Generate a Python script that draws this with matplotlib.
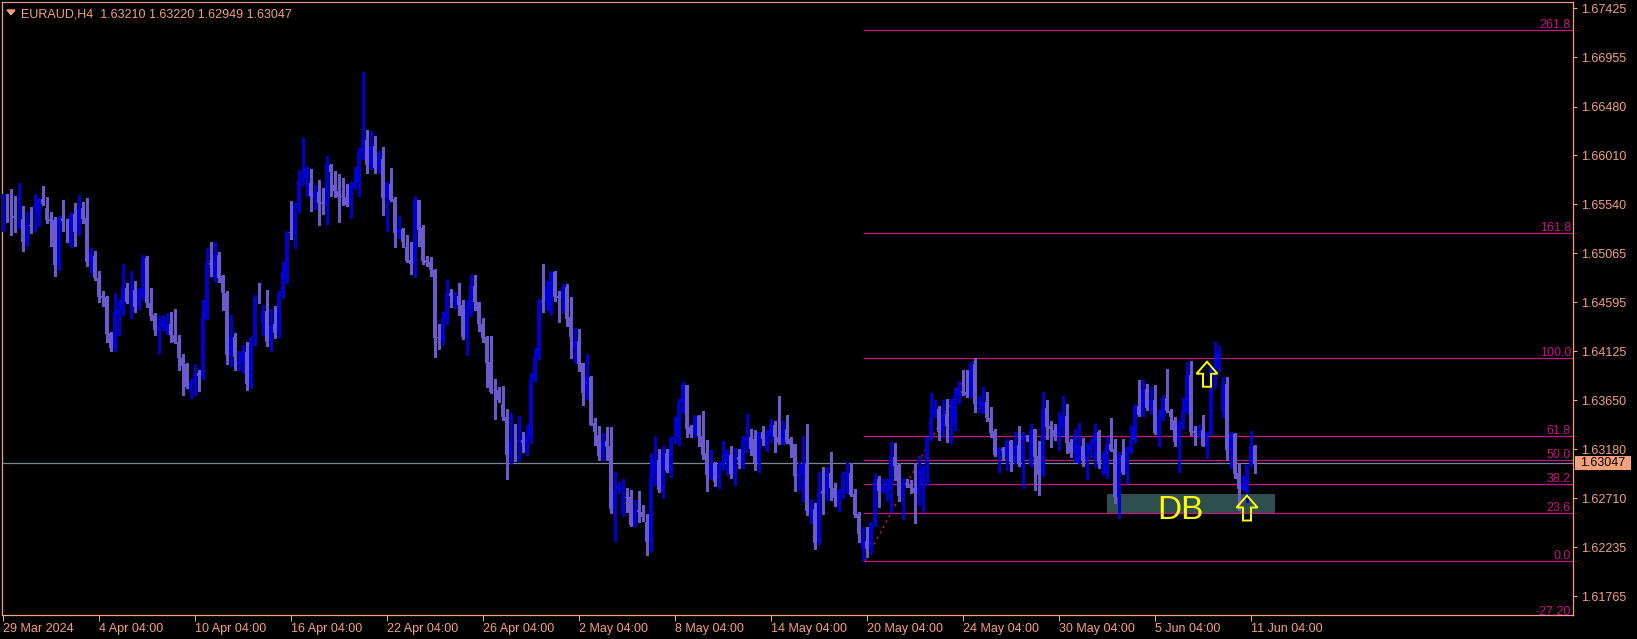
import matplotlib
matplotlib.use("Agg")
import numpy as np
import matplotlib.pyplot as plt
import matplotlib.transforms as mtransforms
from matplotlib.patches import Polygon, Rectangle

plt.rcParams['font.family'] = ['Liberation Sans', 'DejaVu Sans']

header = "EURAUD,H4  1.63210 1.63220 1.62949 1.63047"

# EURAUD H4 candles (oldest first)
opens = [
    1.6543, 1.6551, 1.6549, 1.6543, 1.6541, 1.6540, 1.6518, 1.6534, 1.6533, 1.6546,
    1.6559, 1.6550, 1.6540, 1.6539, 1.6495, 1.6541, 1.6539, 1.6514, 1.6545, 1.6527,
    1.6550, 1.6541, 1.6498, 1.6504, 1.6483, 1.6466, 1.6465, 1.6430, 1.6416, 1.6447,
    1.6452, 1.6473, 1.6459, 1.6471, 1.6456, 1.6466, 1.6502, 1.6459, 1.6447, 1.6433,
    1.6437, 1.6430, 1.6439, 1.6428, 1.6421, 1.6406, 1.6400, 1.6374, 1.6382, 1.6391,
    1.6389, 1.6444, 1.6497, 1.6483, 1.6505, 1.6485, 1.6468, 1.6410, 1.6426, 1.6398,
    1.6403, 1.6412, 1.6381, 1.6425, 1.6467, 1.6439, 1.6451, 1.6421, 1.6439, 1.6431,
    1.6468, 1.6482, 1.6527, 1.6526, 1.6553, 1.6577, 1.6578, 1.6574, 1.6560, 1.6566,
    1.6556, 1.6553, 1.6592, 1.6572, 1.6567, 1.6562, 1.6561, 1.6553, 1.6570, 1.6574,
    1.6604, 1.6616, 1.6592, 1.6610, 1.6589, 1.6597, 1.6560, 1.6573, 1.6559, 1.6526,
    1.6530, 1.6513, 1.6500, 1.6496, 1.6558, 1.6531, 1.6500, 1.6498, 1.6491, 1.6426,
    1.6424, 1.6444, 1.6468, 1.6460, 1.6466, 1.6457, 1.6426, 1.6453, 1.6475, 1.6460,
    1.6439, 1.6426, 1.6402, 1.6375, 1.6375, 1.6362, 1.6349, 1.6313, 1.6326, 1.6324,
    1.6327, 1.6315, 1.6330, 1.6385, 1.6406, 1.6461, 1.6460, 1.6449, 1.6489, 1.6466,
    1.6464, 1.6474, 1.6445, 1.6416, 1.6422, 1.6401, 1.6372, 1.6388, 1.6343, 1.6332,
    1.6312, 1.6326, 1.6321, 1.6260, 1.6280, 1.6256, 1.6272, 1.6272, 1.6245, 1.6260,
    1.6258, 1.6248, 1.6229, 1.6291, 1.6308, 1.6279, 1.6314, 1.6295, 1.6328, 1.6330,
    1.6364, 1.6380, 1.6339, 1.6333, 1.6350, 1.6331, 1.6314, 1.6293, 1.6305, 1.6289,
    1.6302, 1.6306, 1.6313, 1.6294, 1.6311, 1.6303, 1.6327, 1.6330, 1.6328, 1.6305,
    1.6335, 1.6317, 1.6331, 1.6341, 1.6330, 1.6324, 1.6338, 1.6328, 1.6323, 1.6292,
    1.6295, 1.6305, 1.6258, 1.6261, 1.6229, 1.6278, 1.6275, 1.6295, 1.6281, 1.6266,
    1.6276, 1.6294, 1.6295, 1.6275, 1.6256, 1.6222, 1.6230, 1.6223, 1.6248, 1.6289,
    1.6278, 1.6274, 1.6279, 1.6311, 1.6303, 1.6273, 1.6286, 1.6285, 1.6281, 1.6276,
    1.6285, 1.6299, 1.6328, 1.6353, 1.6357, 1.6335, 1.6352, 1.6339, 1.6341, 1.6370,
    1.6374, 1.6373, 1.6370, 1.6400, 1.6362, 1.6360, 1.6364, 1.6348, 1.6336, 1.6313,
    1.6318, 1.6312, 1.6326, 1.6306, 1.6322, 1.6306, 1.6330, 1.6303, 1.6338, 1.6312,
    1.6293, 1.6358, 1.6340, 1.6337, 1.6331, 1.6339, 1.6350, 1.6325, 1.6314, 1.6305,
    1.6321, 1.6308, 1.6317, 1.6322, 1.6335, 1.6295, 1.6295, 1.6323, 1.6318, 1.6272,
    1.6313, 1.6295, 1.6315, 1.6327, 1.6360, 1.6351, 1.6376, 1.6361, 1.6365, 1.6334,
    1.6349, 1.6367, 1.6355, 1.6346, 1.6325, 1.6342, 1.6354, 1.6390, 1.6336, 1.6335,
    1.6337, 1.6321, 1.6334, 1.6395, 1.6396, 1.6355, 1.6381, 1.6317, 1.6333, 1.6295,
    1.6280, 1.6277, 1.6303, 1.63210,
]
highs = [
    1.6564, 1.6564, 1.6569, 1.6562, 1.6574, 1.6552, 1.6546, 1.6551, 1.6564, 1.6560,
    1.6571, 1.6561, 1.6546, 1.6542, 1.6543, 1.6558, 1.6540, 1.6546, 1.6555, 1.6563,
    1.6556, 1.6560, 1.6512, 1.6509, 1.6490, 1.6470, 1.6466, 1.6431, 1.6468, 1.6462,
    1.6496, 1.6478, 1.6490, 1.6480, 1.6473, 1.6505, 1.6504, 1.6473, 1.6449, 1.6446,
    1.6447, 1.6449, 1.6450, 1.6453, 1.6428, 1.6410, 1.6401, 1.6386, 1.6400, 1.6394,
    1.6462, 1.6512, 1.6518, 1.6518, 1.6508, 1.6486, 1.6470, 1.6447, 1.6430, 1.6413,
    1.6418, 1.6421, 1.6426, 1.6467, 1.6478, 1.6457, 1.6471, 1.6453, 1.6456, 1.6470,
    1.6498, 1.6528, 1.6557, 1.6555, 1.6587, 1.6618, 1.6591, 1.6588, 1.6572, 1.6577,
    1.6570, 1.6600, 1.6593, 1.6586, 1.6583, 1.6579, 1.6573, 1.6575, 1.6590, 1.6608,
    1.6681, 1.6625, 1.6624, 1.6620, 1.6605, 1.6609, 1.6575, 1.6589, 1.6561, 1.6543,
    1.6531, 1.6524, 1.6518, 1.6562, 1.6558, 1.6534, 1.6504, 1.6503, 1.6492, 1.6439,
    1.6450, 1.6481, 1.6472, 1.6469, 1.6478, 1.6462, 1.6462, 1.6486, 1.6486, 1.6460,
    1.6444, 1.6427, 1.6427, 1.6386, 1.6378, 1.6379, 1.6357, 1.6353, 1.6342, 1.6350,
    1.6335, 1.6341, 1.6391, 1.6416, 1.6463, 1.6496, 1.6480, 1.6490, 1.6490, 1.6470,
    1.6477, 1.6477, 1.6465, 1.6435, 1.6434, 1.6401, 1.6410, 1.6389, 1.6348, 1.6340,
    1.6334, 1.6339, 1.6339, 1.6296, 1.6287, 1.6289, 1.6281, 1.6279, 1.6269, 1.6278,
    1.6264, 1.6256, 1.6314, 1.6331, 1.6318, 1.6321, 1.6318, 1.6330, 1.6349, 1.6366,
    1.6383, 1.6380, 1.6341, 1.6351, 1.6351, 1.6355, 1.6327, 1.6317, 1.6306, 1.6306,
    1.6326, 1.6317, 1.6321, 1.6319, 1.6318, 1.6331, 1.6352, 1.6338, 1.6337, 1.6335,
    1.6340, 1.6337, 1.6347, 1.6345, 1.6369, 1.6345, 1.6351, 1.6330, 1.6323, 1.6305,
    1.6331, 1.6342, 1.6270, 1.6266, 1.6296, 1.6301, 1.6301, 1.6315, 1.6286, 1.6280,
    1.6296, 1.6306, 1.6305, 1.6280, 1.6258, 1.6243, 1.6243, 1.6248, 1.6294, 1.6292,
    1.6289, 1.6289, 1.6325, 1.6324, 1.6305, 1.6290, 1.6289, 1.6288, 1.6305, 1.6312,
    1.6302, 1.6330, 1.6372, 1.6365, 1.6360, 1.6365, 1.6366, 1.6366, 1.6378, 1.6384,
    1.6394, 1.6394, 1.6402, 1.6406, 1.6369, 1.6378, 1.6373, 1.6359, 1.6338, 1.6320,
    1.6320, 1.6328, 1.6327, 1.6335, 1.6340, 1.6335, 1.6332, 1.6342, 1.6338, 1.6326,
    1.6373, 1.6365, 1.6345, 1.6342, 1.6354, 1.6369, 1.6362, 1.6328, 1.6338, 1.6343,
    1.6329, 1.6324, 1.6328, 1.6342, 1.6337, 1.6316, 1.6330, 1.6348, 1.6328, 1.6315,
    1.6328, 1.6320, 1.6340, 1.6362, 1.6385, 1.6385, 1.6381, 1.6378, 1.6380, 1.6356,
    1.6370, 1.6395, 1.6357, 1.6349, 1.6345, 1.6367, 1.6402, 1.6403, 1.6340, 1.6341,
    1.6351, 1.6335, 1.6397, 1.6421, 1.6417, 1.6388, 1.6388, 1.6335, 1.6334, 1.6305,
    1.6292, 1.6303, 1.6336, 1.63220,
]
lows = [
    1.6528, 1.6537, 1.6524, 1.6527, 1.6531, 1.6509, 1.6514, 1.6526, 1.6528, 1.6533,
    1.6553, 1.6536, 1.6514, 1.6485, 1.6491, 1.6528, 1.6518, 1.6513, 1.6514, 1.6524,
    1.6536, 1.6494, 1.6488, 1.6481, 1.6460, 1.6456, 1.6421, 1.6413, 1.6413, 1.6428,
    1.6447, 1.6459, 1.6444, 1.6450, 1.6453, 1.6462, 1.6455, 1.6442, 1.6428, 1.6410,
    1.6433, 1.6429, 1.6421, 1.6420, 1.6394, 1.6370, 1.6377, 1.6367, 1.6370, 1.6374,
    1.6386, 1.6443, 1.6485, 1.6479, 1.6479, 1.6452, 1.6400, 1.6398, 1.6394, 1.6394,
    1.6391, 1.6375, 1.6377, 1.6418, 1.6459, 1.6428, 1.6417, 1.6413, 1.6425, 1.6426,
    1.6464, 1.6478, 1.6520, 1.6512, 1.6546, 1.6572, 1.6562, 1.6547, 1.6549, 1.6534,
    1.6545, 1.6535, 1.6562, 1.6561, 1.6537, 1.6553, 1.6552, 1.6541, 1.6569, 1.6562,
    1.6597, 1.6584, 1.6588, 1.6584, 1.6584, 1.6544, 1.6528, 1.6557, 1.6513, 1.6521,
    1.6513, 1.6498, 1.6487, 1.6484, 1.6514, 1.6496, 1.6494, 1.6485, 1.6407, 1.6415,
    1.6419, 1.6439, 1.6455, 1.6454, 1.6447, 1.6424, 1.6409, 1.6446, 1.6452, 1.6432,
    1.6421, 1.6378, 1.6372, 1.6347, 1.6364, 1.6346, 1.6289, 1.6304, 1.6307, 1.6307,
    1.6315, 1.6313, 1.6324, 1.6384, 1.6405, 1.6450, 1.6452, 1.6447, 1.6461, 1.6441,
    1.6450, 1.6437, 1.6406, 1.6401, 1.6393, 1.6361, 1.6366, 1.6341, 1.6322, 1.6308,
    1.6308, 1.6308, 1.6257, 1.6230, 1.6276, 1.6254, 1.6258, 1.6244, 1.6244, 1.6248,
    1.6249, 1.6216, 1.6220, 1.6284, 1.6277, 1.6271, 1.6296, 1.6291, 1.6324, 1.6322,
    1.6353, 1.6330, 1.6330, 1.6330, 1.6321, 1.6309, 1.6278, 1.6289, 1.6283, 1.6281,
    1.6298, 1.6293, 1.6290, 1.6284, 1.6300, 1.6300, 1.6315, 1.6313, 1.6298, 1.6296,
    1.6322, 1.6316, 1.6325, 1.6315, 1.6323, 1.6323, 1.6324, 1.6311, 1.6278, 1.6279,
    1.6268, 1.6255, 1.6247, 1.6222, 1.6227, 1.6256, 1.6269, 1.6269, 1.6263, 1.6259,
    1.6271, 1.6276, 1.6273, 1.6253, 1.6229, 1.6211, 1.6214, 1.6218, 1.6244, 1.6262,
    1.6277, 1.6268, 1.6258, 1.6288, 1.6268, 1.6251, 1.6282, 1.6276, 1.6247, 1.6264,
    1.6258, 1.6284, 1.6327, 1.6349, 1.6327, 1.6330, 1.6325, 1.6324, 1.6337, 1.6363,
    1.6370, 1.6368, 1.6368, 1.6354, 1.6354, 1.6353, 1.6345, 1.6330, 1.6312, 1.6296,
    1.6308, 1.6298, 1.6297, 1.6304, 1.6302, 1.6281, 1.6326, 1.6302, 1.6279, 1.6274,
    1.6292, 1.6328, 1.6320, 1.6327, 1.6317, 1.6332, 1.6314, 1.6311, 1.6306, 1.6305,
    1.6302, 1.6289, 1.6311, 1.6301, 1.6300, 1.6293, 1.6290, 1.6316, 1.6266, 1.6252,
    1.6294, 1.6286, 1.6314, 1.6324, 1.6350, 1.6350, 1.6356, 1.6353, 1.6333, 1.6321,
    1.6346, 1.6354, 1.6338, 1.6321, 1.6296, 1.6338, 1.6353, 1.6332, 1.6322, 1.6330,
    1.6321, 1.6310, 1.6333, 1.6378, 1.6393, 1.6349, 1.6308, 1.6300, 1.6290, 1.6260,
    1.6279, 1.6267, 1.6302, 1.62949,
]
closes = [
    1.6551, 1.6549, 1.6543, 1.6541, 1.6545, 1.6518, 1.6534, 1.6533, 1.6546, 1.6558,
    1.6554, 1.6539, 1.6538, 1.6495, 1.6541, 1.6538, 1.6520, 1.6545, 1.6527, 1.6549,
    1.6540, 1.6498, 1.6506, 1.6483, 1.6465, 1.6464, 1.6429, 1.6416, 1.6450, 1.6452,
    1.6473, 1.6460, 1.6471, 1.6455, 1.6472, 1.6502, 1.6459, 1.6446, 1.6433, 1.6437,
    1.6442, 1.6439, 1.6428, 1.6421, 1.6406, 1.6398, 1.6378, 1.6382, 1.6391, 1.6389,
    1.6444, 1.6498, 1.6495, 1.6505, 1.6483, 1.6468, 1.6409, 1.6426, 1.6407, 1.6403,
    1.6412, 1.6381, 1.6425, 1.6465, 1.6464, 1.6451, 1.6421, 1.6438, 1.6430, 1.6468,
    1.6490, 1.6527, 1.6526, 1.6553, 1.6577, 1.6579, 1.6589, 1.6562, 1.6566, 1.6555,
    1.6554, 1.6593, 1.6585, 1.6567, 1.6561, 1.6561, 1.6553, 1.6572, 1.6574, 1.6605,
    1.6616, 1.6592, 1.6610, 1.6589, 1.6603, 1.6560, 1.6574, 1.6558, 1.6526, 1.6530,
    1.6518, 1.6499, 1.6496, 1.6558, 1.6529, 1.6499, 1.6497, 1.6491, 1.6425, 1.6425,
    1.6444, 1.6468, 1.6466, 1.6466, 1.6457, 1.6426, 1.6453, 1.6476, 1.6460, 1.6439,
    1.6425, 1.6401, 1.6373, 1.6374, 1.6365, 1.6349, 1.6313, 1.6325, 1.6324, 1.6327,
    1.6324, 1.6331, 1.6385, 1.6407, 1.6461, 1.6460, 1.6474, 1.6489, 1.6465, 1.6464,
    1.6474, 1.6443, 1.6426, 1.6422, 1.6400, 1.6372, 1.6389, 1.6341, 1.6335, 1.6312,
    1.6326, 1.6320, 1.6261, 1.6280, 1.6283, 1.6273, 1.6271, 1.6245, 1.6260, 1.6258,
    1.6253, 1.6229, 1.6291, 1.6308, 1.6279, 1.6314, 1.6297, 1.6329, 1.6331, 1.6364,
    1.6380, 1.6338, 1.6333, 1.6350, 1.6331, 1.6313, 1.6293, 1.6305, 1.6287, 1.6303,
    1.6307, 1.6314, 1.6294, 1.6310, 1.6308, 1.6328, 1.6330, 1.6318, 1.6305, 1.6335,
    1.6328, 1.6331, 1.6342, 1.6330, 1.6324, 1.6337, 1.6325, 1.6322, 1.6292, 1.6295,
    1.6304, 1.6259, 1.6261, 1.6228, 1.6277, 1.6275, 1.6295, 1.6281, 1.6271, 1.6277,
    1.6294, 1.6296, 1.6274, 1.6255, 1.6236, 1.6230, 1.6222, 1.6248, 1.6289, 1.6278,
    1.6285, 1.6279, 1.6311, 1.6302, 1.6273, 1.6286, 1.6285, 1.6281, 1.6276, 1.6285,
    1.6299, 1.6330, 1.6348, 1.6357, 1.6335, 1.6352, 1.6340, 1.6341, 1.6370, 1.6375,
    1.6372, 1.6370, 1.6400, 1.6362, 1.6364, 1.6364, 1.6348, 1.6334, 1.6313, 1.6318,
    1.6316, 1.6327, 1.6306, 1.6322, 1.6305, 1.6330, 1.6327, 1.6337, 1.6311, 1.6293,
    1.6357, 1.6339, 1.6338, 1.6331, 1.6339, 1.6350, 1.6324, 1.6314, 1.6331, 1.6321,
    1.6308, 1.6317, 1.6322, 1.6335, 1.6306, 1.6296, 1.6323, 1.6317, 1.6272, 1.6313,
    1.6295, 1.6317, 1.6327, 1.6360, 1.6351, 1.6376, 1.6358, 1.6365, 1.6334, 1.6350,
    1.6367, 1.6355, 1.6349, 1.6325, 1.6342, 1.6356, 1.6390, 1.6335, 1.6334, 1.6337,
    1.6321, 1.6335, 1.6397, 1.6397, 1.6412, 1.6381, 1.6317, 1.6333, 1.6294, 1.6280,
    1.6285, 1.6303, 1.6321, 1.63047,
]

time_labels = ["29 Mar 2024", "4 Apr 04:00", "10 Apr 04:00", "16 Apr 04:00",
               "22 Apr 04:00", "26 Apr 04:00", "2 May 04:00", "8 May 04:00",
               "14 May 04:00", "20 May 04:00", "24 May 04:00", "30 May 04:00",
               "5 Jun 04:00", "11 Jun 04:00"]
price_ticks = [1.67425, 1.66955, 1.66480, 1.66010, 1.65540, 1.65065, 1.64595,
               1.64125, 1.63650, 1.63180, 1.62710, 1.62235, 1.61765]
last_price = 1.63047

# fibonacci drawn from the swing low to the swing high
fib_low, fib_high = 1.62105, 1.64056
fib_low_bar, fib_high_bar = 215.5, 243
fib_levels = [261.8, 161.8, 100.0, 61.8, 50.0, 38.2, 23.6, 0.0, -27.2]
fib_texts = ["261.8", "161.8", "100.0", "61.8", "50.0", "38.2", "23.6", "0.0", "-27,20"]

# double bottom zone + arrows
db_bottom, db_top = 1.62567, 1.62750
db_first_bar, db_last_bar = 276, 318
arrow_bars = [301, 311]
arrow_prices = [1.64023, 1.62735]

BG = 'black'
FG = '#F4A07A'
BULL = '#0000D2'
BEAR = '#6A5ACD'
FIB = '#C71585'

fig = plt.figure(figsize=(16.37, 6.39), dpi=100, facecolor=BG)
ax = fig.add_axes([2 / 1637, 24 / 639, 1571 / 1637, 613 / 639])
ax.set_facecolor(BG)

o = np.array(opens); h = np.array(highs); l = np.array(lows); c = np.array(closes)
x = np.arange(len(o))
cols = np.where(c >= o, BULL, BEAR)

ax.vlines(x, l, h, colors=cols, linewidth=0.75, antialiased=False, zorder=3)
ax.bar(x, np.maximum(np.abs(c - o), 0.00007), bottom=np.minimum(o, c), width=0.75,
       color=cols, linewidth=0, antialiased=False, zorder=4)

xmax = 392.5
fib_prices = [fib_low + lv / 100 * (fib_high - fib_low) for lv in fib_levels]
ax.hlines(fib_prices, fib_low_bar - 0.5, xmax, colors=FIB, linewidth=0.9, zorder=2)
blend = mtransforms.blended_transform_factory(ax.transAxes, ax.transData)
for p, t in zip(fib_prices, fib_texts):
    ax.annotate(t, xy=(1, p), xycoords=blend, xytext=(-2, 2), textcoords='offset pixels',
                ha='right', va='baseline', color=FIB, fontsize=9, annotation_clip=False)
ax.plot([fib_low_bar, fib_high_bar], [fib_low, fib_high], color=FIB, lw=0.9,
        ls=(0, (2, 3)), zorder=2)

ax.axhline(last_price, color='#778899', lw=0.9, zorder=2)

ax.add_patch(Rectangle((db_first_bar, db_bottom), db_last_bar - db_first_bar, db_top - db_bottom,
                       facecolor='#2F4F4F', edgecolor='none', zorder=1))
ax.text(288.5, 1.62509, "DB", color='#FFFF00', fontsize=24, ha='left', va='baseline', zorder=6)

arrow_shape = np.array([(0, 0), (10.5, -12), (4, -12), (4, -25), (-4, -25), (-4, -12), (-10.5, -12)])
for bx, by in zip(arrow_bars, arrow_prices):
    tr = mtransforms.ScaledTranslation(bx, by, ax.transData)
    ax.add_patch(Polygon(arrow_shape, closed=True, fill=False, edgecolor='#FFFF00',
                         lw=1.4, transform=tr, zorder=7))

ax.set_xlim(-0.25, xmax)
ax.set_ylim(1.61585, 1.67486)

ax.yaxis.tick_right()
ax.set_yticks(price_ticks)
ax.set_yticklabels([f"{p:.5f}" for p in price_ticks])
ax.tick_params(axis='y', colors=FG, length=3, width=0.75, pad=3, labelsize=9)
ax.set_xticks(np.arange(len(time_labels)) * 24)
ax.set_xticklabels(time_labels, ha='left')
ax.tick_params(axis='x', colors=FG, length=4, width=0.75, pad=2, labelsize=9)
for s in ax.spines.values():
    s.set_color(FG)
    s.set_linewidth(0.9)

# current price tag on the scale
ax.add_patch(Rectangle((1.0013, last_price - 0.00067), 0.0356, 0.00135, transform=blend,
                       facecolor=FG, edgecolor='none', clip_on=False, zorder=8))
ax.text(1.0013 + 0.0178, last_price, f"{last_price:.5f}", transform=blend, ha='center',
        va='center', color='black', fontsize=9, clip_on=False, zorder=9)

fig.text(21 / 1637, 1 - 17.3 / 639, header, color=FG, fontsize=9, ha='left', va='baseline')
fig.add_artist(Polygon([(7 / 1637, 1 - 10 / 639), (15 / 1637, 1 - 10 / 639), (11 / 1637, 1 - 14.5 / 639)],
                       closed=True, transform=fig.transFigure, color=FG))

fig.savefig('out.png', dpi=100, facecolor=BG)
